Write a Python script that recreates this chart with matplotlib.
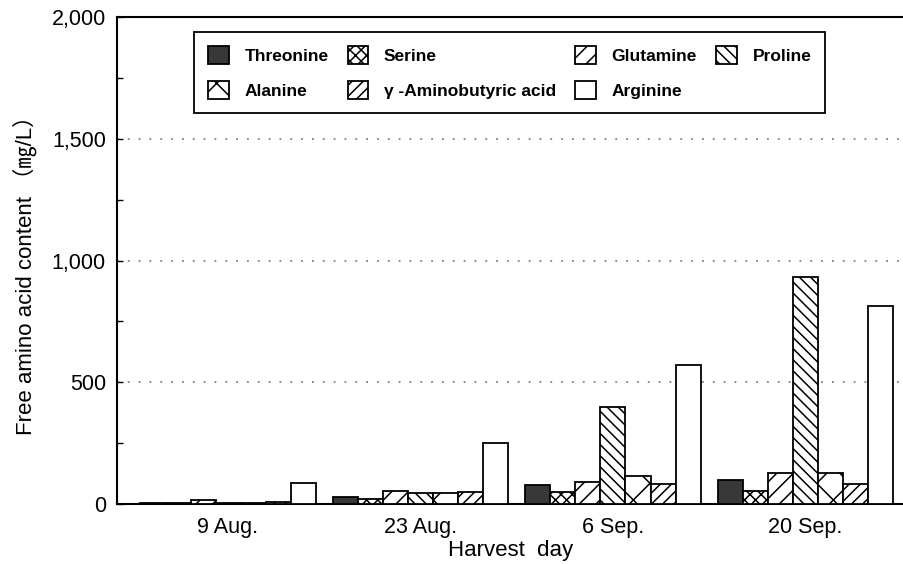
import numpy as np
import matplotlib
matplotlib.use('Agg')
from matplotlib import pyplot as plt
from matplotlib.ticker import MultipleLocator, FuncFormatter

plt.rcParams['font.family'] = ['Liberation Sans', 'Noto Sans CJK JP', 'DejaVu Sans']
plt.rcParams['hatch.linewidth'] = 1.1

dates = ['9 Aug.', '23 Aug.', '6 Sep.', '20 Sep.']
names = ['Threonine', 'Serine', 'Glutamine', 'Proline', 'Alanine',
         'γ -Aminobutyric acid', 'Arginine']
threonine = [5, 27, 79, 99]
serine = [5, 20, 50, 55]
glutamine = [17, 55, 90, 126]
proline = [3, 44, 397, 933]
alanine = [3, 45, 115, 126]
gaba = [10, 49, 82, 81]
arginine = [85, 252, 571, 813]

series = [threonine, serine, glutamine, proline, alanine, gaba, arginine]
hatches = ['', 'xxx', '//', '\\\\\\', 'x', '///', '']
faces = ['#383838', 'white', 'white', 'white', 'white', 'white', 'white']

fig = plt.figure(figsize=(9.04, 5.64), dpi=100)
ax = fig.add_axes([117/904, 60/564, 1 - 117/904, 487/564])

x = np.arange(len(dates))
w = 0.13
bars = []
for i, vals in enumerate(series):
    b = ax.bar(x + (i - 3) * w, vals, w, color=faces[i], edgecolor='black',
               linewidth=1.3, hatch=hatches[i], label=names[i], zorder=3)
    bars.append(b)

ax.set_xlim(-0.577, 3.512)
ax.set_ylim(0, 2000)
ax.set_xticks(x)
ax.set_xticklabels(dates, fontsize=15.5)
ax.tick_params(axis='x', length=0, pad=9)
ax.yaxis.set_major_locator(MultipleLocator(500))
ax.yaxis.set_minor_locator(MultipleLocator(250))
ax.yaxis.set_major_formatter(FuncFormatter(lambda v, p: f'{int(v):,}'))
ax.tick_params(axis='y', which='both', direction='in', length=4, width=1, labelsize=15.5, pad=8)

for v in [500, 1000, 1500]:
    ax.axhline(v, color='0.5', linestyle=(0, (1, 5)), linewidth=1.3, zorder=1)

for s in ['left', 'bottom', 'top']:
    ax.spines[s].set_linewidth(1.5)
ax.spines['right'].set_visible(False)

ax.set_xlabel('Harvest  day', fontsize=16, labelpad=2)
ax.set_ylabel('Free amino acid content （㎎/L）', fontsize=16)
ax.yaxis.set_label_coords(-0.102, 0.48)

order = [0, 4, 1, 5, 2, 6, 3]
leg = ax.legend([bars[k] for k in order], [names[k] for k in order], ncol=4,
                loc='upper left', bbox_to_anchor=(194/904, 1 - 32/564),
                bbox_transform=fig.transFigure, borderaxespad=0,
                prop={'weight': 'bold', 'size': 12.5}, fancybox=False,
                edgecolor='black', framealpha=1, borderpad=0.8,
                handlelength=1.2, handleheight=1.2, handletextpad=0.9,
                columnspacing=1.1, labelspacing=1.0)
leg.get_frame().set_linewidth(1.3)
leg.set_zorder(5)

fig.savefig('out.png', dpi=100)
